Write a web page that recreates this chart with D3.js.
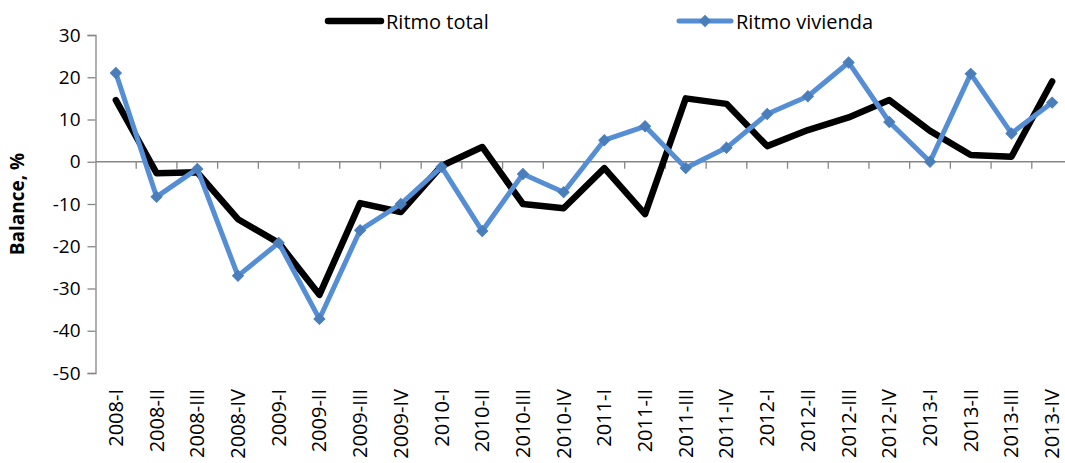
<!DOCTYPE html>
<html>
<head>
<meta charset="utf-8">
<script src="https://cdn.jsdelivr.net/npm/d3@7"></script>
<style>
  html, body { margin: 0; padding: 0; background: #fff; }
  svg { display: block; }
  text { font-family: "Open Sans", "Liberation Sans", sans-serif; fill: #000; }
</style>
</head>
<body>
<svg id="chart" width="1065" height="463"></svg>
<script>
const categories = ["2008-I","2008-II","2008-III","2008-IV","2009-I","2009-II","2009-III","2009-IV",
  "2010-I","2010-II","2010-III","2010-IV","2011-I","2011-II","2011-III","2011-IV",
  "2012-I","2012-II","2012-III","2012-IV","2013-I","2013-II","2013-III","2013-IV"];
const ritmoTotal = [14.6, -2.7, -2.5, -13.6, -19.2, -31.5, -9.8, -11.9,
  -1.0, 3.5, -10.0, -11.0, -1.5, -12.4, 15.0, 13.7,
  3.7, 7.5, 10.5, 14.6, 7.3, 1.6, 1.2, 19.0];
const ritmoVivienda = [21.0, -8.3, -1.7, -27.0, -19.2, -37.2, -16.2, -10.0,
  -1.2, -16.4, -2.9, -7.2, 5.1, 8.4, -1.5, 3.3,
  11.3, 15.5, 23.5, 9.4, 0.0, 20.8, 6.7, 14.0];
const yTicks = [30, 20, 10, 0, -10, -20, -30, -40, -50];
const seriesNames = ["Ritmo total", "Ritmo vivienda"];

const svg = d3.select("#chart");
const plotLeft = 95.5, plotRight = 1072.5, plotTop = 35, plotBottom = 373;
const axisColor = "#868686";
const blue = "#558ED5", blueMarker = "#4A7EBB";

const x = d3.scaleBand().domain(categories).range([plotLeft, plotRight]).padding(0);
const y = d3.scaleLinear().domain([-50, 30]).range([plotBottom, plotTop]);
const cx = d => x(d) + x.bandwidth() / 2;

// Y axis
const yAxis = svg.append("g").attr("transform", `translate(${plotLeft},0)`)
  .call(d3.axisLeft(y).tickValues(yTicks).tickSize(8).tickPadding(7).tickFormat(d => String(d)));
yAxis.select(".domain").attr("stroke", axisColor).attr("stroke-width", 1.3);
yAxis.selectAll(".tick line").attr("stroke", axisColor).attr("stroke-width", 1.3);
yAxis.selectAll(".tick text").attr("font-size", 19).attr("font-family", "Open Sans").attr("fill", "#000");

// X axis at zero line
const xAxisG = svg.append("g").attr("transform", `translate(0,${y(0)})`);
xAxisG.append("line").attr("x1", plotLeft).attr("x2", plotRight).attr("y1", 0).attr("y2", 0)
  .attr("stroke", axisColor).attr("stroke-width", 1.3);
xAxisG.selectAll("line.tk").data(categories).enter().append("line")
  .attr("class", "tk")
  .attr("x1", d => x(d) + x.bandwidth())
  .attr("x2", d => x(d) + x.bandwidth())
  .attr("y1", 0).attr("y2", 7)
  .attr("stroke", axisColor).attr("stroke-width", 1.3);

// X labels at bottom, rotated
svg.append("g").selectAll("text").data(categories).enter().append("text")
  .attr("transform", d => `translate(${cx(d) + 7},389) rotate(-90)`)
  .attr("text-anchor", "end")
  .attr("font-size", 20)
  .text(d => d);

// Y axis title
svg.append("text")
  .attr("transform", `translate(24,${(plotTop + plotBottom) / 2}) rotate(-90)`)
  .attr("text-anchor", "middle")
  .attr("font-size", 19).attr("font-weight", "bold")
  .text("Balance, %");

// Lines
const line = vals => d3.line().x((d, i) => cx(categories[i])).y(d => y(d))(vals);
svg.append("path").attr("d", line(ritmoTotal)).attr("fill", "none")
  .attr("stroke", "#000").attr("stroke-width", 6.5)
  .attr("stroke-linejoin", "round").attr("stroke-linecap", "round");
svg.append("path").attr("d", line(ritmoVivienda)).attr("fill", "none")
  .attr("stroke", blue).attr("stroke-width", 5)
  .attr("stroke-linejoin", "round").attr("stroke-linecap", "round");

const diamond = d3.symbol().type(d3.symbolSquare).size(60);
svg.append("g").selectAll("path").data(ritmoVivienda).enter().append("path")
  .attr("d", diamond)
  .attr("transform", (d, i) => `translate(${cx(categories[i])},${y(d)}) rotate(45)`)
  .attr("fill", blueMarker).attr("stroke", blueMarker).attr("stroke-width", 1);

// Legend
const lg = svg.append("g");
lg.append("line").attr("x1", 328).attr("x2", 381).attr("y1", 21).attr("y2", 21)
  .attr("stroke", "#000").attr("stroke-width", 6.5).attr("stroke-linecap", "round");
lg.append("text").attr("x", 386).attr("y", 29).attr("font-size", 20).text(seriesNames[0]);
lg.append("line").attr("x1", 679).attr("x2", 731).attr("y1", 21).attr("y2", 21)
  .attr("stroke", blue).attr("stroke-width", 5).attr("stroke-linecap", "round");
lg.append("path").attr("d", diamond).attr("transform", "translate(705,21) rotate(45)")
  .attr("fill", blueMarker).attr("stroke", blueMarker);
lg.append("text").attr("x", 736).attr("y", 29).attr("font-size", 20).text(seriesNames[1]);
</script>
</body>
</html>
